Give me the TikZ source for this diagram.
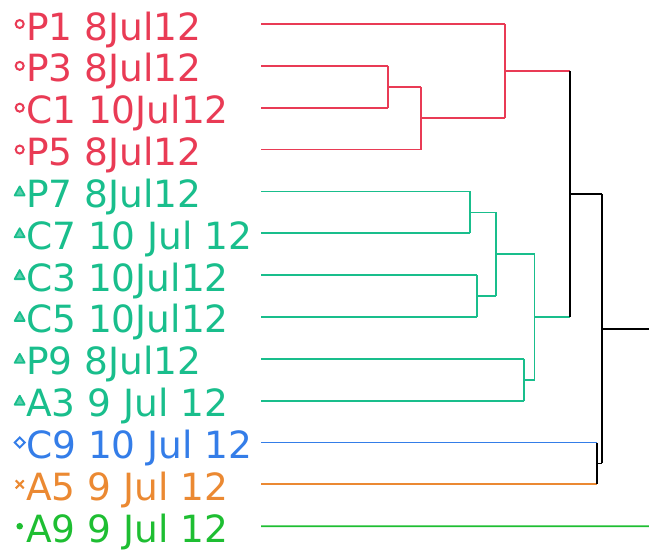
\documentclass[tikz,border=0pt]{standalone}
\usepackage{fontspec}
\setmainfont{DejaVu Sans}
\usetikzlibrary{calc}
\definecolor{cred}{RGB}{233,59,85}
\definecolor{cteal}{RGB}{25,190,140}
\definecolor{cblue}{RGB}{52,125,232}
\definecolor{corange}{RGB}{235,137,50}
\definecolor{cgreen}{RGB}{30,190,50}
\tikzset{
  lbl/.style={anchor=base west, inner sep=0pt, font=\fontsize{37.5}{37.5}\selectfont},
  link/.style={line width=1.8pt, line cap=butt},
}
\begin{document}
\begin{tikzpicture}[x=1pt,y=-1pt]
\useasboundingbox (0,0) rectangle (649,550);
% leaf rows
\foreach \n/\k/\t/\c in {
  P1/0/{P1 8Jul12}/cred, P3/1/{P3 8Jul12}/cred, C1/2/{C1 10Jul12}/cred, P5/3/{P5 8Jul12}/cred,
  P7/4/{P7 8Jul12}/cteal, C7/5/{C7 10 Jul 12}/cteal, C3/6/{C3 10Jul12}/cteal, C5/7/{C5 10Jul12}/cteal,
  P9/8/{P9 8Jul12}/cteal, A3/9/{A3 9 Jul 12}/cteal,
  C9/10/{C9 10 Jul 12}/cblue, A5/11/{A5 9 Jul 12}/corange, A9/12/{A9 9 Jul 12}/cgreen}{
  \pgfmathsetmacro\yy{24+41.85*\k}
  \node[lbl, text=\c] (t\n) at (26,\yy+16) {\t};
  \coordinate (l\n) at (261,\yy);
  \coordinate (m\n) at (19.7,\yy);
}
% markers
\foreach \n in {P1,P3,C1,P5}{\draw[cred, line width=2pt] (m\n) circle (4);}
\foreach \n in {P7,C7,C3,C5,P9,A3}{\draw[cteal, fill=cteal!70!white, line width=1.8pt, line join=round] ($(m\n)+(-5,4)$) -- ($(m\n)+(5,4)$) -- ($(m\n)+(0,-5)$) -- cycle;}
\draw[cblue, line width=2pt] ($(mC9)+(-5,0)$) -- ($(mC9)+(0,-5)$) -- ($(mC9)+(5,0)$) -- ($(mC9)+(0,5)$) -- cycle;
\draw[corange, line width=2.2pt] ($(mA5)+(-4,-4)$) -- ($(mA5)+(4,4)$) ($(mA5)+(-4,4)$) -- ($(mA5)+(4,-4)$);
\fill[cgreen] (mA9) circle (3.3);
% internal nodes
\coordinate (n1) at (388.3,86.8);
\coordinate (n2) at (420.7,118.2);
\coordinate (n3) at (505,71.1);
\coordinate (g1) at (470,212.4);
\coordinate (g2) at (477,296);
\coordinate (g3) at (495.7,254.2);
\coordinate (g4) at (524.3,379.8);
\coordinate (g5) at (534.5,317);
\coordinate (k1) at (570,194);
\coordinate (b1) at (597,463.4);
\coordinate (k2) at (602,328.7);
\coordinate (root) at (649,328.7);
\coordinate (end) at (649,526.2);
% red cluster
\draw[link, cred] (lP3) -- (lP3 -| n1) (lC1) -- (lC1 -| n1) (lP3 -| n1) -- (lC1 -| n1);
\draw[link, cred] (n1) -- (n1 -| n2) (lP5) -- (lP5 -| n2) (n1 -| n2) -- (lP5 -| n2);
\draw[link, cred] (lP1) -- (lP1 -| n3) (n2) -- (n2 -| n3) (lP1 -| n3) -- (n2 -| n3);
\draw[link, cred] (n3) -- (n3 -| k1);
% teal cluster
\draw[link, cteal] (lP7) -- (lP7 -| g1) (lC7) -- (lC7 -| g1) (lP7 -| g1) -- (lC7 -| g1);
\draw[link, cteal] (lC3) -- (lC3 -| g2) (lC5) -- (lC5 -| g2) (lC3 -| g2) -- (lC5 -| g2);
\draw[link, cteal] (g1) -- (g1 -| g3) (g2) -- (g2 -| g3) (g1 -| g3) -- (g2 -| g3);
\draw[link, cteal] (lP9) -- (lP9 -| g4) (lA3) -- (lA3 -| g4) (lP9 -| g4) -- (lA3 -| g4);
\draw[link, cteal] (g3) -- (g3 -| g5) (g4) -- (g4 -| g5) (g3 -| g5) -- (g4 -| g5);
\draw[link, cteal] (g5) -- (g5 -| k1);
% black links
\draw[link, black] (n3 -| k1) -- (g5 -| k1);
\draw[link, cblue] (lC9) -- (lC9 -| b1);
\draw[link, corange] (lA5) -- (lA5 -| b1);
\draw[link, black] (lC9 -| b1) -- (lA5 -| b1);
\draw[link, black] (k1) -- (k1 -| k2) (b1) -- (b1 -| k2) (k1 -| k2) -- (b1 -| k2);
\draw[link, black] (k2) -- (root);
% outlier
\draw[link, cgreen] (lA9) -- (end);
\end{tikzpicture}
\end{document}
